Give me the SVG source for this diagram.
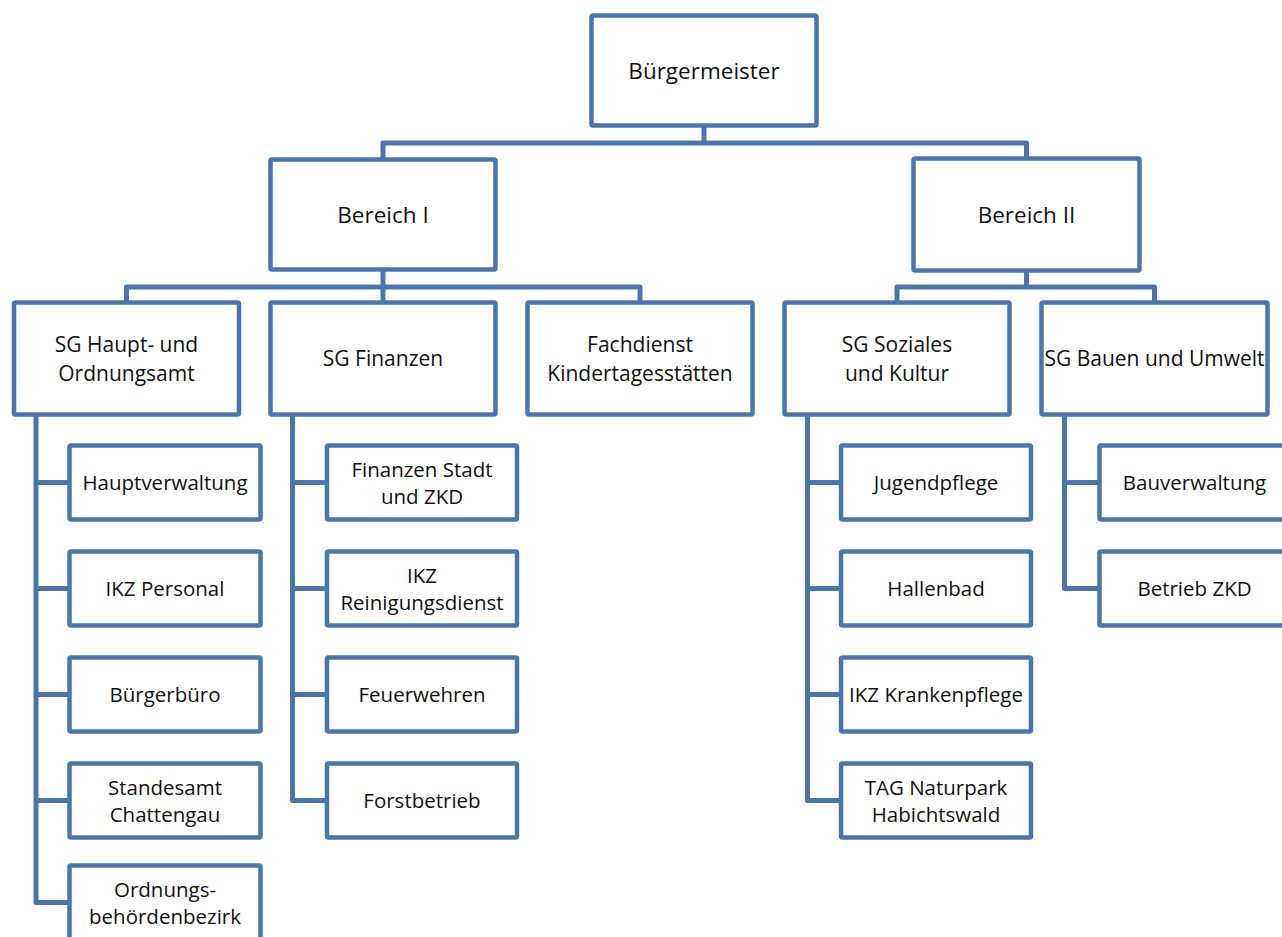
<svg xmlns="http://www.w3.org/2000/svg" width="1282" height="937" viewBox="0 0 1282 937">
<style>
.box{fill:#ffffff;stroke:#4a76ae;stroke-width:4.5}
.conn{fill:none;stroke:#4a76ae;stroke-width:5;stroke-linejoin:round}
text{font-family:"Open Sans","Liberation Sans",sans-serif;fill:#111111;text-anchor:middle}
.t1{font-size:22.5px}
.t2{font-size:21px}
.t3{font-size:20.5px}
</style>
<rect width="1282" height="937" fill="#ffffff"/>
<g id="connectors">
<path class="conn" d="M704,125.5 V143"/>
<path class="conn" d="M383,159.5 V143 H1026.5 V158.5"/>
<path class="conn" d="M383,269.5 V287"/>
<path class="conn" d="M126.5,302.5 V287 H640 V302.5"/>
<path class="conn" d="M383,287 V302.5"/>
<path class="conn" d="M1026.5,270.5 V287"/>
<path class="conn" d="M897,302.5 V287 H1154.5 V302.5"/>
<path class="conn" d="M36,414.5 V902.5 H69.5 M36,482.5 H69.5 M36,588.5 H69.5 M36,694.5 H69.5 M36,800.5 H69.5"/>
<path class="conn" d="M292.5,414.5 V800.5 H327 M292.5,482.5 H327 M292.5,588.5 H327 M292.5,694.5 H327"/>
<path class="conn" d="M807.5,414.5 V800.5 H841 M807.5,482.5 H841 M807.5,588.5 H841 M807.5,694.5 H841"/>
<path class="conn" d="M1064.5,414.5 V588.5 H1099.5 M1064.5,482.5 H1099.5"/>
</g>
<g id="buergermeister"><rect class="box" x="591.5" y="15.5" width="225" height="110" rx="1.5"/><text class="t1" x="704" y="79">Bürgermeister</text></g>
<g id="bereich1"><rect class="box" x="270.5" y="159.5" width="225" height="110" rx="1.5"/><text class="t1" x="383" y="223">Bereich I</text></g>
<g id="bereich2"><rect class="box" x="913.5" y="158.5" width="226" height="112" rx="1.5"/><text class="t1" x="1026.5" y="223">Bereich II</text></g>
<g id="sg-haupt"><rect class="box" x="14" y="302.5" width="225" height="112" rx="1.5"/><text class="t2" x="126.5" y="351.5">SG Haupt- und</text><text class="t2" x="126.5" y="380.5">Ordnungsamt</text></g>
<g id="sg-finanzen"><rect class="box" x="270.5" y="302.5" width="225" height="112" rx="1.5"/><text class="t2" x="383" y="366">SG Finanzen</text></g>
<g id="fachdienst-kita"><rect class="box" x="527.5" y="302.5" width="225" height="112" rx="1.5"/><text class="t2" x="640" y="351.5">Fachdienst</text><text class="t2" x="640" y="380.5">Kindertagesstätten</text></g>
<g id="sg-soziales"><rect class="box" x="784.5" y="302.5" width="225" height="112" rx="1.5"/><text class="t2" x="897" y="351.5">SG Soziales</text><text class="t2" x="897" y="380.5">und Kultur</text></g>
<g id="sg-bauen"><rect class="box" x="1041.5" y="302.5" width="226" height="112" rx="1.5"/><text class="t2" x="1154.5" y="366">SG Bauen und Umwelt</text></g>
<g id="hauptverwaltung"><rect class="box" x="69.5" y="445.5" width="191" height="74" rx="1.5"/><text class="t3" x="165" y="490">Hauptverwaltung</text></g>
<g id="ikz-personal"><rect class="box" x="69.5" y="551.5" width="191" height="74" rx="1.5"/><text class="t3" x="165" y="596">IKZ Personal</text></g>
<g id="buergerbuero"><rect class="box" x="69.5" y="657.5" width="191" height="74" rx="1.5"/><text class="t3" x="165" y="702">Bürgerbüro</text></g>
<g id="standesamt"><rect class="box" x="69.5" y="763.5" width="191" height="74" rx="1.5"/><text class="t3" x="165" y="794.5">Standesamt</text><text class="t3" x="165" y="821.5">Chattengau</text></g>
<g id="ordnungsbehoerdenbezirk"><rect class="box" x="69.5" y="865.5" width="191" height="74" rx="1.5"/><text class="t3" x="165" y="896.5">Ordnungs-</text><text class="t3" x="165" y="923.5">behördenbezirk</text></g>
<g id="finanzen-stadt"><rect class="box" x="327" y="445.5" width="190" height="74" rx="1.5"/><text class="t3" x="422" y="476.5">Finanzen Stadt</text><text class="t3" x="422" y="503.5">und ZKD</text></g>
<g id="ikz-reinigung"><rect class="box" x="327" y="551.5" width="190" height="74" rx="1.5"/><text class="t3" x="422" y="582.5">IKZ</text><text class="t3" x="422" y="609.5">Reinigungsdienst</text></g>
<g id="feuerwehren"><rect class="box" x="327" y="657.5" width="190" height="74" rx="1.5"/><text class="t3" x="422" y="702">Feuerwehren</text></g>
<g id="forstbetrieb"><rect class="box" x="327" y="763.5" width="190" height="74" rx="1.5"/><text class="t3" x="422" y="808">Forstbetrieb</text></g>
<g id="jugendpflege"><rect class="box" x="841" y="445.5" width="190" height="74" rx="1.5"/><text class="t3" x="936" y="490">Jugendpflege</text></g>
<g id="hallenbad"><rect class="box" x="841" y="551.5" width="190" height="74" rx="1.5"/><text class="t3" x="936" y="596">Hallenbad</text></g>
<g id="ikz-krankenpflege"><rect class="box" x="841" y="657.5" width="190" height="74" rx="1.5"/><text class="t3" x="936" y="702">IKZ Krankenpflege</text></g>
<g id="tag-naturpark"><rect class="box" x="841" y="763.5" width="190" height="74" rx="1.5"/><text class="t3" x="936" y="794.5">TAG Naturpark</text><text class="t3" x="936" y="821.5">Habichtswald</text></g>
<g id="bauverwaltung"><rect class="box" x="1099.5" y="445.5" width="190" height="74" rx="1.5"/><text class="t3" x="1194.5" y="490">Bauverwaltung</text></g>
<g id="betrieb-zkd"><rect class="box" x="1099.5" y="551.5" width="190" height="74" rx="1.5"/><text class="t3" x="1194.5" y="596">Betrieb ZKD</text></g>
</svg>
